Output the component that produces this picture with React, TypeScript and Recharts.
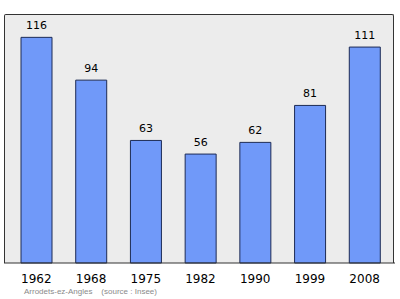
import { BarChart, Bar, XAxis, YAxis, LabelList } from "recharts";

const years = ["1962", "1968", "1975", "1982", "1990", "1999", "2008"];
const population = [116, 94, 63, 56, 62, 81, 111];

const data = years.map((year, i) => ({ year, population: population[i] }));

export default function App() {
  return (
    <div
      style={{
        position: "absolute",
        left: 0,
        top: 0,
        width: 400,
        height: 299,
        background: "#fff",
        fontFamily: "DejaVu Sans, sans-serif",
      }}
    >
      <div
        style={{
          position: "absolute",
          left: 4,
          top: 14,
          width: 390,
          height: 249,
          background: "#ececec",
          border: "1px solid #333",
          borderBottom: "none",
          borderRadius: "2px 2px 0 0",
          boxSizing: "border-box",
        }}
      />
      <BarChart
        width={400}
        height={299}
        data={data}
        margin={{ top: 14, right: 5, bottom: 6, left: 4 }}
        style={{ position: "absolute", left: 0, top: 0 }}
      >
        <XAxis
          dataKey="year"
          height={30}
          padding={{ left: 5, right: 3 }}
          tickLine={false}
          axisLine={{ stroke: "#333", strokeWidth: 1 }}
          tick={{ fill: "#000", fontSize: 12 }}
          tickMargin={5}
        />
        <YAxis hide domain={[0, 128]} />
        <Bar
          dataKey="population"
          barSize={31}
          fill="#7099f9"
          stroke="#1d2b55"
          strokeWidth={1}
          isAnimationActive={false}
        >
          <LabelList dataKey="population" position="top" offset={8} fill="#000" fontSize={11} />
        </Bar>
      </BarChart>
      <div
        style={{
          position: "absolute",
          left: 24,
          top: 287,
          fontSize: 8,
          lineHeight: "10px",
          fontFamily: "Liberation Sans, sans-serif",
          color: "#8a8a8a",
          whiteSpace: "pre",
        }}
      >
        {"Arrodets-ez-Angles    (source : Insee)"}
      </div>
    </div>
  );
}
